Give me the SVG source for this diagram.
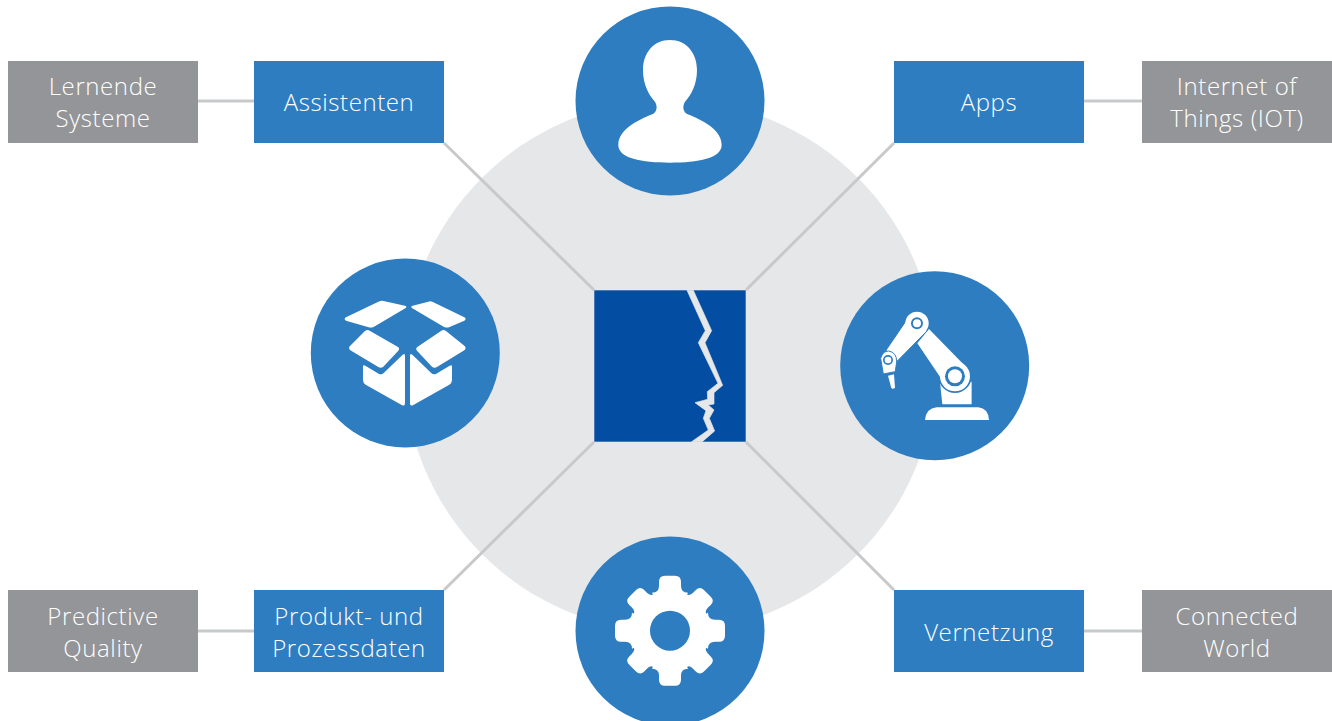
<svg xmlns="http://www.w3.org/2000/svg" width="1332" height="721" viewBox="0 0 1332 721">
<style>
.lbl{font-family:"Open Sans","Liberation Sans",sans-serif;font-size:24px;font-weight:300;fill:#fff;text-anchor:middle;letter-spacing:.6px}
.blue{fill:#2e7dc1}.grey{fill:#939598}
.ln{stroke:#c8c9cb;stroke-width:3;fill:none}
.ic{fill:#fff}
</style>
<defs>
<path id="tooth" d="M-18-38Q-11-38-11-45V-49Q-11-55-5-55H5Q11-55 11-49V-45Q11-38 18-38L0 0Z"/>
</defs>
<rect width="1332" height="721" fill="#fff"/>
<circle id="backdrop" cx="670" cy="366" r="266" fill="#e6e7e8"/>
<g id="connectors" class="ln">
<path d="M198 101H254M1084 101H1142M198 631H254M1084 631H1142"/>
<path d="M444 143L594 290M894 143L746 290M444 590L594 442M894 590L746 442"/>
</g>
<g id="center">
<rect x="594.300" y="290.300" width="151.400" height="151.400" fill="#034ea2"/>
<path transform="translate(580 280) scale(.3333)" fill="#e6e7e8" stroke="#e6e7e8" stroke-width="2" d="M321 31H340L395 152L375 188L428 316L402 338V372L385 375L402 390L388 415L404 453L367 485H335L385 450L370 415L378 392L345 368L383 358L382 335L414 310L355 188L376 152Z"/>
</g>
<g id="user">
<circle class="blue" cx="670" cy="101" r="94.500"/>
<path class="ic" transform="translate(565 0) scale(.3333)" d="M315 120C365 120 396 160 396 210C396 255 378 285 362 303C352 315 352 335 368 343C410 360 470 388 470 435C470 475 400 488 315 488C230 488 160 475 160 435C160 388 220 360 262 343C278 335 278 315 268 303C252 285 234 255 234 210C234 160 265 120 315 120Z"/>
</g>
<g id="box">
<circle class="blue" cx="405.300" cy="353" r="94.500"/>
<g class="ic" transform="translate(300 250) scale(.3333)">
<path d="M247 152L315 167Q323 170 316 175L222 230Q214 234 206 232L138 212Q130 207 138 202L235 155Q241 152 247 152Z"/>
<path d="M385 155Q391 152 397 155L493 202Q501 207 493 212L447 232Q439 234 431 230L337 175Q330 170 338 167Z"/>
<path d="M195 243Q202 238 209 242L294 291Q300 296 295 302L250 350Q243 356 235 351L151 301Q144 294 150 288Z"/>
<path d="M438 243Q431 238 424 242L352 291Q346 296 351 302L396 350Q403 356 411 351L493 301Q500 294 494 288Z"/>
<path d="M189 350Q189 343 196 347L236 371Q244 376 252 368L308 314Q315 308 315 318V460Q315 470 305 465L197 404Q189 399 189 390Z"/>
<path d="M456 350Q456 343 449 347L409 371Q401 376 393 368L337 314Q330 308 330 318V460Q330 470 340 465L448 404Q456 399 456 390Z"/>
</g>
</g>
<g id="robot">
<circle class="blue" cx="934.700" cy="365.700" r="94.500"/>
<g transform="translate(830 265) scale(.3333)">
<path class="ic" d="M285 465Q288 430 320 427H445Q475 430 477 465Z"/>
<path class="ic" d="M330 350H425V418H337Z"/>
<circle cx="375" cy="334" r="50" fill="#2e7dc1"/>
<path class="ic" d="M262 235L297 192L412 310L345 358Z"/>
<circle class="ic" cx="375" cy="334" r="45"/>
<circle cx="375" cy="334" r="30" fill="#2e7dc1"/><circle cx="375" cy="334" r="21" fill="#fff"/>
<path class="ic" stroke="#2e7dc1" stroke-width="3" d="M168 256L232 162L292 197L200 290Z"/>
<circle class="ic" cx="261" cy="175" r="35"/>
<circle cx="261" cy="175" r="18" fill="#2e7dc1"/><circle cx="261" cy="175" r="12" fill="#fff"/>
<path class="ic" stroke="#2e7dc1" stroke-width="3" d="M152 280Q158 258 176 258Q200 262 200 290L196 320L160 327Z"/>
<circle cx="174" cy="285" r="15" fill="#2e7dc1"/><circle cx="174" cy="285" r="10" fill="#fff"/>
<path class="ic" d="M174 332L192 328L195 368Q189 374 184 369Z"/>
</g>
</g>
<g id="gear">
<circle class="blue" cx="670" cy="631" r="94.500"/>
<g transform="translate(670 630.700)" class="ic">
<circle r="40"/>
<use href="#tooth"/><use href="#tooth" transform="rotate(90)"/><use href="#tooth" transform="rotate(180)"/><use href="#tooth" transform="rotate(270)"/>
<use href="#tooth" transform="rotate(45) scale(.96)"/><use href="#tooth" transform="rotate(135) scale(.96)"/><use href="#tooth" transform="rotate(225) scale(.96)"/><use href="#tooth" transform="rotate(315) scale(.96)"/>
<circle r="20" fill="#2e7dc1"/>
</g>
</g>
<g id="n-lernende"><rect class="grey" x="8" y="61" width="190" height="82"/><text class="lbl" x="103" y="95">Lernende</text><text class="lbl" x="103" y="127">Systeme</text></g>
<g id="n-assistenten"><rect class="blue" x="254" y="61" width="190" height="82"/><text class="lbl" x="349" y="111">Assistenten</text></g>
<g id="n-apps"><rect class="blue" x="894" y="61" width="190" height="82"/><text class="lbl" x="989" y="111">Apps</text></g>
<g id="n-iot"><rect class="grey" x="1142" y="61" width="190" height="82"/><text class="lbl" x="1237" y="95">Internet of</text><text class="lbl" x="1237" y="127">Things (IOT)</text></g>
<g id="n-quality"><rect class="grey" x="8" y="590" width="190" height="82"/><text class="lbl" x="103" y="625">Predictive</text><text class="lbl" x="103" y="657">Quality</text></g>
<g id="n-daten"><rect class="blue" x="254" y="590" width="190" height="82"/><text class="lbl" x="349" y="625">Produkt- und</text><text class="lbl" x="349" y="657">Prozessdaten</text></g>
<g id="n-vernetzung"><rect class="blue" x="894" y="590" width="190" height="82"/><text class="lbl" x="989" y="641">Vernetzung</text></g>
<g id="n-world"><rect class="grey" x="1142" y="590" width="190" height="82"/><text class="lbl" x="1237" y="625">Connected</text><text class="lbl" x="1237" y="657">World</text></g>
</svg>
